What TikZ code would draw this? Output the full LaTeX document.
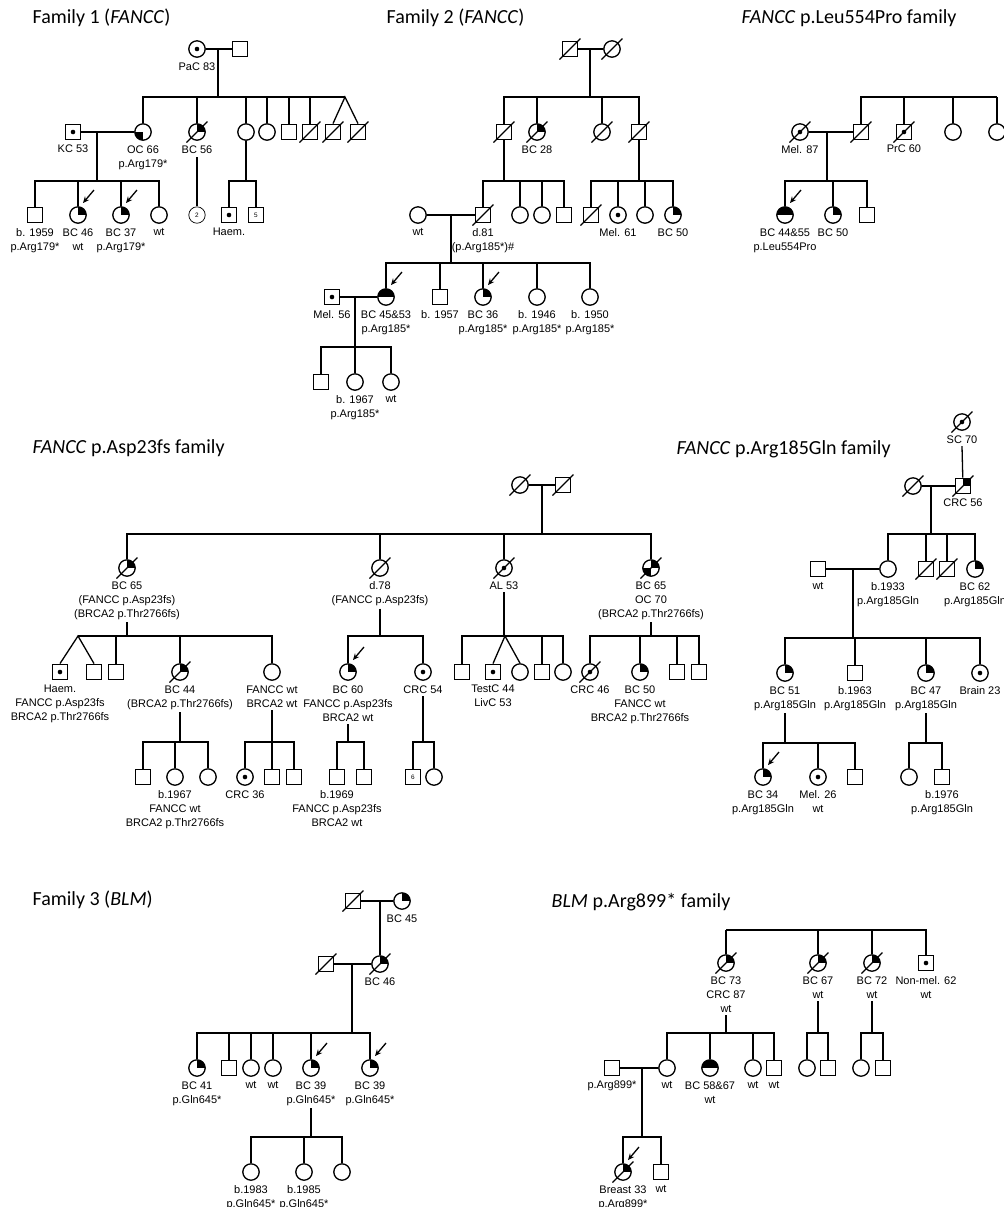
\documentclass[tikz,border=0pt]{standalone}
\usepackage{fontspec}
\setmainfont{Liberation Sans}
\newfontfamily\titlefont{Carlito}
\usetikzlibrary{arrows.meta}

\newcommand{\lblsize}{\fontsize{5.5}{7}\selectfont}

\tikzset{
  male/.style={draw, rectangle, minimum size=7.8pt, inner sep=0pt},
  female/.style={draw, circle, minimum size=8.2pt, inner sep=0pt},
  grp/.style={line width=0.35pt, font=\fontsize{3.2}{3.2}\selectfont},
  ur/.style={path picture={\fill (path picture bounding box.center) rectangle (path picture bounding box.north east);}},
  ll/.style={path picture={\fill (path picture bounding box.center) rectangle (path picture bounding box.south west);}},
  urll/.style={path picture={\fill (path picture bounding box.center) rectangle (path picture bounding box.north east);
      \fill (path picture bounding box.center) rectangle (path picture bounding box.south west);}},
  tophalf/.style={path picture={\fill (path picture bounding box.west) rectangle (path picture bounding box.north east);}},
  dot/.style={path picture={\fill (path picture bounding box.center) circle (1.15pt);}},
  every label/.style={font=\lblsize, align=center, inner sep=0pt},
  label distance=2.1pt,
  proband/.style={-{Stealth[length=3.2pt,width=2.8pt]}},
  title/.style={font=\titlefont\fontsize{10}{12}\selectfont, anchor=base west, inner sep=0pt},
}

\begin{document}
\begin{tikzpicture}[x=0.5pt,y=-0.5pt,line width=0.65pt]
\useasboundingbox (0,0) rectangle (1004,1207);

%Family 1
\node[title] (f1title) at (32,23) {Family 1 (\textit{FANCC})};
\node[female, dot, label=below:PaC 83] (f1gm) at (197,49) {};
\node[male] (f1gf) at (240,49) {};
\draw (f1gm) -- (f1gf);
\coordinate (f1m) at (218,49);
\coordinate (f1s) at (218,97);
\coordinate (f1tw) at (345,97);
\draw (f1m) -- (f1s) -- (f1tw);
\node[female, ll, label={below:{OC 66\\p.Arg179*}}] (f1c1) at (143,132) {};
\node[female, ur, label={[name=f1c2l]below:BC 56}] (f1c2) at (197,132) {};
\node[female] (f1c3) at (246,132) {};
\node[female] (f1c4) at (267,132) {};
\node[male] (f1c5) at (289,132) {};
\node[male] (f1c6) at (310,132) {};
\node[male] (f1c7) at (333,132) {};
\node[male] (f1c8) at (358,132) {};
\foreach \n in {f1c1,f1c2,f1c3,f1c4,f1c5,f1c6} \draw (\n.north) |- (f1s);
\draw (f1c7.north) -- (f1tw) -- (f1c8.north);

\node[male, dot, label=below:KC 53] (f1kc) at (73,132) {};
\draw (f1kc) -- (f1c1);
\coordinate (f1m2) at (97,132);
\coordinate (f1s2) at (97,181);
\draw (f1m2) -- (f1s2);
\node[male, label={below:{b. 1959\\p.Arg179*}}] (f1g1) at (35,215) {};
\node[female, ur, label={below:{BC 46\\wt}}] (f1g2) at (78,215) {};
\node[female, ur, label={below:{BC 37\\p.Arg179*}}] (f1g3) at (121,215) {};
\node[female, label=below:wt] (f1g4) at (159,215) {};
\foreach \n in {f1g1,f1g2,f1g3,f1g4} \draw (\n.north) |- (f1s2);

\node[female, grp] (f1g5) at (197,215) {2};
\draw ([yshift=-1.5pt]f1c2l.south) -- (f1g5);
\coordinate (f1s3) at (246,181);
\draw (f1c3) -- (f1s3);
\node[male, dot, label=below:Haem.] (f1g6) at (229,215) {};
\node[male, grp] (f1g7) at (256,215) {5};
\foreach \n in {f1g6,f1g7} \draw (\n.north) |- (f1s3);

\foreach \n in {f1c2,f1c6,f1c7,f1c8} \draw (\n.center) ++(-10.5,10.5) -- ++(21,-21);
\foreach \n in {f1g2,f1g3} \draw[proband] (\n.center) ++(16,-25) -- ++(-11,13);

%Family 2
\node[title] (f2title) at (386,23) {Family 2 (\textit{FANCC})};
\node[male] (f2gf) at (570,49) {};
\node[female] (f2gm) at (612,49) {};
\draw (f2gf) -- (f2gm);
\coordinate (f2m) at (590,49);
\coordinate (f2s) at (590,97);
\draw (f2m) -- (f2s);
\node[male] (f2c1) at (504,132) {};
\node[female, ur, label=below:BC 28] (f2c2) at (537,132) {};
\node[female] (f2c3) at (602,132) {};
\node[male] (f2c4) at (639,132) {};
\foreach \n in {f2c1,f2c2,f2c3,f2c4} \draw (\n.north) |- (f2s);

\coordinate (f2s2) at (504,181);
\draw (f2c1) -- (f2s2);
\node[male, label={below:{d.81\\(p.Arg185*)\#}}] (f2d1) at (483,215) {};
\node[female] (f2d2) at (520,215) {};
\node[female] (f2d3) at (542,215) {};
\node[male] (f2d4) at (564,215) {};
\foreach \n in {f2d1,f2d2,f2d3,f2d4} \draw (\n.north) |- (f2s2);

\coordinate (f2s3) at (639,181);
\draw (f2c4) -- (f2s3);
\node[male] (f2e1) at (591,215) {};
\node[female, dot, label=below:Mel. 61] (f2e2) at (618,215) {};
\node[female] (f2e3) at (645,215) {};
\node[female, ur, label=below:BC 50] (f2e4) at (673,215) {};
\foreach \n in {f2e1,f2e2,f2e3,f2e4} \draw (\n.north) |- (f2s3);

\node[female, label=below:wt] (f2w) at (418,215) {};
\draw (f2w) -- (f2d1);
\coordinate (f2m2) at (451,215);
\coordinate (f2s4) at (451,263);
\draw (f2m2) -- (f2s4);
\node[female, tophalf, label={below:{BC 45\&53\\p.Arg185*}}] (f2f1) at (386,297) {};
\node[male, label=below:b. 1957] (f2f2) at (440,297) {};
\node[female, ur, label={below:{BC 36\\p.Arg185*}}] (f2f3) at (483,297) {};
\node[female, label={below:{b. 1946\\p.Arg185*}}] (f2f4) at (537,297) {};
\node[female, label={below:{b. 1950\\p.Arg185*}}] (f2f5) at (590,297) {};
\foreach \n in {f2f1,f2f2,f2f3,f2f4,f2f5} \draw (\n.north) |- (f2s4);

\node[male, dot, label=below:Mel. 56] (f2mel) at (332,297) {};
\draw (f2mel) -- (f2f1);
\coordinate (f2m3) at (355,297);
\coordinate (f2s5) at (355,347);
\draw (f2m3) -- (f2s5);
\node[male] (f2g1) at (321,382) {};
\node[female, label={below:{b. 1967\\p.Arg185*}}] (f2g2) at (355,382) {};
\node[female, label=below:wt] (f2g3) at (391,382) {};
\foreach \n in {f2g1,f2g2,f2g3} \draw (\n.north) |- (f2s5);

\foreach \n in {f2gf,f2gm,f2c1,f2c2,f2c3,f2c4,f2d1,f2e1} \draw (\n.center) ++(-10.5,10.5) -- ++(21,-21);
\foreach \n in {f2f1,f2f3} \draw[proband] (\n.center) ++(16,-25) -- ++(-11,13);

%FANCC p.Leu554Pro
\node[title] (l0title) at (741,23) {\textit{FANCC} p.Leu554Pro family};
\coordinate (ls) at (997,97);
\node[male] (l1) at (861,132) {};
\node[male, dot, label=below:PrC 60] (l2) at (904,132) {};
\node[female] (l3) at (953,132) {};
\node[female] (l4) at (997,132) {};
\foreach \n in {l1,l2,l3,l4} \draw (\n.north) |- (ls);
\node[female, dot, label=below:Mel. 87] (lm) at (800,132) {};
\draw (lm) -- (l1);
\coordinate (lm1) at (827,132);
\coordinate (ls2) at (827,181);
\draw (lm1) -- (ls2);
\node[female, tophalf, label={below:{BC 44\&55\\p.Leu554Pro}}] (lg1) at (785,215) {};
\node[female, ur, label=below:BC 50] (lg2) at (833,215) {};
\node[male] (lg3) at (867,215) {};
\foreach \n in {lg1,lg2,lg3} \draw (\n.north) |- (ls2);

\foreach \n in {l1,l2,lm} \draw (\n.center) ++(-10.5,10.5) -- ++(21,-21);
\draw[proband] (lg1.center) ++(16,-25) -- ++(-11,13);

%FANCC p.Asp23fs
\node[title] (atitle) at (32,453) {\textit{FANCC} p.Asp23fs family};
\node[female] (agm) at (520,485) {};
\node[male] (agf) at (563,485) {};
\draw (agm) -- (agf);
\coordinate (am) at (542,485);
\coordinate (as) at (542,534);
\draw (am) -- (as);
\node[female, ur, label={[name=a1l]below:{BC 65\\(FANCC p.Asp23fs)\\(BRCA2 p.Thr2766fs)}}] (a1) at (127,568) {};
\node[female, label={[name=a2l]below:{d.78\\(FANCC p.Asp23fs)}}] (a2) at (380,568) {};
\node[female, dot, label={[name=a3l]below:AL 53}] (a3) at (504,568) {};
\node[female, urll, label={[name=a4l]below:{BC 65\\OC 70\\(BRCA2 p.Thr2766fs)}}] (a4) at (651,568) {};
\foreach \n in {a1,a2,a3,a4} \draw (\n.north) |- (as);

\coordinate (a1s) at (127,636);
\coordinate (a1tw) at (78,636);
\draw ([yshift=-1pt]a1l.south) -- (a1s) -- (a1tw);
\node[male, dot, label={below:{Haem.\\FANCC p.Asp23fs\\BRCA2 p.Thr2766fs}}] (a1c1) at (60,672) {};
\node[male] (a1c2) at (94,672) {};
\node[male] (a1c3) at (116,672) {};
\node[female, ur, label={[name=a1c4l]below:{BC 44\\(BRCA2 p.Thr2766fs)}}] (a1c4) at (180,672) {};
\node[female, label={[name=a1c5l]below:{FANCC wt\\BRCA2 wt}}] (a1c5) at (272,672) {};
\draw (a1c1.north) -- (a1tw) -- (a1c2.north);
\foreach \n in {a1c3,a1c4,a1c5} \draw (\n.north) |- (a1s);

\coordinate (a2s) at (380,636);
\draw ([yshift=-1pt]a2l.south) -- (a2s);
\node[female, ur, label={[name=a2c1l]below:{BC 60\\FANCC p.Asp23fs\\BRCA2 wt}}] (a2c1) at (348,672) {};
\node[female, dot, label={[name=a2c2l]below:CRC 54}] (a2c2) at (423,672) {};
\foreach \n in {a2c1,a2c2} \draw (\n.north) |- (a2s);

\coordinate (a3s) at (504,636);
\coordinate (a3tw) at (505,636);
\draw ([yshift=-1pt]a3l.south) -- (a3s);
\node[male] (a3c1) at (462,672) {};
\node[male, dot, label={below:{TestC 44\\LivC 53}}] (a3c2) at (493,672) {};
\node[female] (a3c3) at (520,672) {};
\node[male] (a3c4) at (542,672) {};
\node[female] (a3c5) at (563,672) {};
\draw (a3c2.north) -- (a3tw) -- (a3c3.north);
\foreach \n in {a3c1,a3c4,a3c5} \draw (\n.north) |- (a3s);

\coordinate (a4s) at (651,636);
\draw ([yshift=-1pt]a4l.south) -- (a4s);
\node[female, dot, label=below:CRC 46] (a4c1) at (590,672) {};
\node[female, ur, label={below:{BC 50\\FANCC wt\\BRCA2 p.Thr2766fs}}] (a4c2) at (640,672) {};
\node[male] (a4c3) at (677,672) {};
\node[male] (a4c4) at (699,672) {};
\foreach \n in {a4c1,a4c2,a4c3,a4c4} \draw (\n.north) |- (a4s);

\coordinate (b1s) at (180,742);
\draw ([yshift=-1pt]a1c4l.south) -- (b1s);
\node[male] (b1) at (143,777) {};
\node[female, label={below:{b.1967\\FANCC wt\\BRCA2 p.Thr2766fs}}] (b2) at (175,777) {};
\node[female] (b3) at (208,777) {};
\foreach \n in {b1,b2,b3} \draw (\n.north) |- (b1s);

\coordinate (b2s) at (272,742);
\draw ([yshift=-1pt]a1c5l.south) -- (b2s);
\node[female, dot, label=below:CRC 36] (b4) at (245,777) {};
\node[male] (b5) at (272,777) {};
\node[male] (b6) at (294,777) {};
\foreach \n in {b4,b5,b6} \draw (\n.north) |- (b2s);

\coordinate (b3s) at (348,742);
\draw ([yshift=-1pt]a2c1l.south) -- (b3s);
\node[male, label={below:{b.1969\\FANCC p.Asp23fs\\BRCA2 wt}}] (b7) at (337,777) {};
\node[male] (b8) at (364,777) {};
\foreach \n in {b7,b8} \draw (\n.north) |- (b3s);

\coordinate (b4s) at (423,742);
\draw ([yshift=-1pt]a2c2l.south) -- (b4s);
\node[male, grp] (b9) at (413,777) {6};
\node[female] (b10) at (434,777) {};
\foreach \n in {b9,b10} \draw (\n.north) |- (b4s);

\foreach \n in {agm,agf,a1,a2,a3,a4,a1c4,a4c1} \draw (\n.center) ++(-10.5,10.5) -- ++(21,-21);
\draw[proband] (a2c1.center) ++(16,-25) -- ++(-11,13);

%FANCC p.Arg185Gln
\node[title] (rtitle) at (676,454) {\textit{FANCC} p.Arg185Gln family};
\node[female, dot, label={[name=r0l]below:SC 70}] (r0) at (962,422) {};
\node[male, ur, label=below:CRC 56] (r1) at (963,486) {};
\draw ([yshift=-1pt]r0l.south) -- (r1);
\node[female] (r2) at (913,486) {};
\draw (r2) -- (r1);
\coordinate (rm) at (931,486);
\coordinate (rs) at (931,534);
\draw (rm) -- (rs);
\node[female, label={below:{b.1933\\p.Arg185Gln}}] (r3) at (888,569) {};
\node[male] (r4) at (926,569) {};
\node[male] (r5) at (947,569) {};
\node[female, ur, label={below:{BC 62\\p.Arg185Gln}}] (r6) at (975,569) {};
\foreach \n in {r3,r4,r5,r6} \draw (\n.north) |- (rs);

\node[male, label=below:wt] (rw) at (818,569) {};
\draw (rw) -- (r3);
\coordinate (rm2) at (853,569);
\coordinate (rs2) at (853,638);
\draw (rm2) -- (rs2);
\node[female, ur, label={[name=r7l]below:{BC 51\\p.Arg185Gln}}] (r7) at (785,673) {};
\node[male, label={below:{b.1963\\p.Arg185Gln}}] (r8) at (855,673) {};
\node[female, ur, label={[name=r9l]below:{BC 47\\p.Arg185Gln}}] (r9) at (926,673) {};
\node[female, dot, label=below:Brain 23] (r10) at (980,673) {};
\foreach \n in {r7,r8,r9,r10} \draw (\n.north) |- (rs2);

\coordinate (rs3) at (785,743);
\draw ([yshift=-1pt]r7l.south) -- (rs3);
\node[female, ur, label={below:{BC 34\\p.Arg185Gln}}] (r11) at (763,777) {};
\node[female, dot, label={below:{Mel. 26\\wt}}] (r12) at (818,777) {};
\node[male] (r13) at (855,777) {};
\foreach \n in {r11,r12,r13} \draw (\n.north) |- (rs3);

\coordinate (rs4) at (926,743);
\draw ([yshift=-1pt]r9l.south) -- (rs4);
\node[female] (r14) at (909,777) {};
\node[male, label={below:{b.1976\\p.Arg185Gln}}] (r15) at (942,777) {};
\foreach \n in {r14,r15} \draw (\n.north) |- (rs4);

\foreach \n in {r0,r1,r2,r4,r5} \draw (\n.center) ++(-10.5,10.5) -- ++(21,-21);
\draw[proband] (r11.center) ++(16,-25) -- ++(-11,13);

%Family 3
\node[title] (ttitle) at (32,905) {Family 3 (\textit{BLM})};
\node[male] (t0) at (353,901) {};
\node[female, ur, label=below:BC 45] (t1) at (402,901) {};
\draw (t0) -- (t1);
\coordinate (tm) at (380,901);
\node[female, ur, label=below:BC 46] (t2) at (380,964) {};
\draw (tm) -- (t2);
\node[male] (t3) at (326,964) {};
\draw (t3) -- (t2);
\coordinate (tm2) at (352,964);
\coordinate (ts) at (352,1033);
\draw (tm2) -- (ts);
\node[female, ur, label={below:{BC 41\\p.Gln645*}}] (t4) at (197,1068) {};
\node[male] (t5) at (229,1068) {};
\node[female, label=below:wt] (t6) at (251,1068) {};
\node[female, label=below:wt] (t7) at (273,1068) {};
\node[female, ur, label={[name=t8l]below:{BC 39\\p.Gln645*}}] (t8) at (311,1068) {};
\node[female, ur, label={below:{BC 39\\p.Gln645*}}] (t9) at (370,1068) {};
\foreach \n in {t4,t5,t6,t7,t8,t9} \draw (\n.north) |- (ts);

\coordinate (ts2) at (311,1137);
\draw ([yshift=-1pt]t8l.south) -- (ts2);
\node[female, label={below:{b.1983\\p.Gln645*}}] (t10) at (251,1172) {};
\node[female, label={below:{b.1985\\p.Gln645*}}] (t11) at (304,1172) {};
\node[female] (t12) at (342,1172) {};
\foreach \n in {t10,t11,t12} \draw (\n.north) |- (ts2);

\foreach \n in {t0,t2,t3} \draw (\n.center) ++(-10.5,10.5) -- ++(21,-21);
\foreach \n in {t8,t9} \draw[proband] (\n.center) ++(16,-25) -- ++(-11,13);

%BLM p.Arg899*
\node[title] (mtitle) at (551,907) {\textit{BLM} p.Arg899* family};
\coordinate (ms) at (726,930);
\node[female, ur, label={[name=m1l]below:{BC 73\\CRC 87\\wt}}] (m1) at (726,963) {};
\node[female, ur, label={[name=m2l]below:{BC 67\\wt}}] (m2) at (818,963) {};
\node[female, ur, label={[name=m3l]below:{BC 72\\wt}}] (m3) at (872,963) {};
\node[male, dot, label={below:{Non-mel. 62\\wt}}] (m4) at (926,963) {};
\foreach \n in {m1,m2,m3,m4} \draw (\n.north) |- (ms);

\coordinate (ms2) at (726,1033);
\draw ([yshift=-1pt]m1l.south) -- (ms2);
\node[female, label=below:wt] (m5) at (667,1068) {};
\node[female, tophalf, label={below:{BC 58\&67\\wt}}] (m6) at (710,1068) {};
\node[female, label=below:wt] (m7) at (753,1068) {};
\node[male, label=below:wt] (m8) at (774,1068) {};
\foreach \n in {m5,m6,m7,m8} \draw (\n.north) |- (ms2);

\node[male, label=below:p.Arg899*] (mp) at (612,1068) {};
\draw (mp) -- (m5);
\coordinate (mm) at (642,1068);
\coordinate (ms3) at (642,1137);
\draw (mm) -- (ms3);
\node[female, ur, label={below:{Breast 33\\p.Arg899*}}] (m9) at (623,1172) {};
\node[male, label=below:wt] (m10) at (661,1172) {};
\foreach \n in {m9,m10} \draw (\n.north) |- (ms3);

\coordinate (ms4) at (818,1033);
\draw ([yshift=-1pt]m2l.south) -- (ms4);
\node[female] (m11) at (807,1068) {};
\node[male] (m12) at (828,1068) {};
\foreach \n in {m11,m12} \draw (\n.north) |- (ms4);

\coordinate (ms5) at (872,1033);
\draw ([yshift=-1pt]m3l.south) -- (ms5);
\node[female] (m13) at (861,1068) {};
\node[male] (m14) at (883,1068) {};
\foreach \n in {m13,m14} \draw (\n.north) |- (ms5);

\foreach \n in {m1,m2,m3,m9} \draw (\n.center) ++(-10.5,10.5) -- ++(21,-21);
\draw[proband] (m9.center) ++(16,-25) -- ++(-11,13);

\end{tikzpicture}
\end{document}
